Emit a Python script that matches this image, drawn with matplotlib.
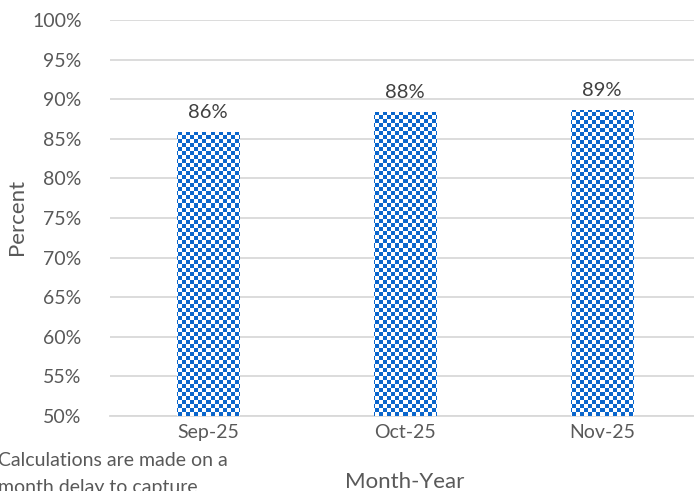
import matplotlib
matplotlib.use("Agg")
import matplotlib.pyplot as plt
import numpy as np

categories = ["Sep-25", "Oct-25", "Nov-25"]
values = [85.9, 88.4, 88.6]
labels = ["86%", "88%", "89%"]
yticks = [50, 55, 60, 65, 70, 75, 80, 85, 90, 95, 100]
note_lines = ["Calculations are made on a", "month delay to capture"]

plt.rcParams['font.family'] = ['Lato', 'DejaVu Sans']

W, H = 694, 491
fig = plt.figure(figsize=(W / 100, H / 100), dpi=100)
ax = fig.add_axes([109.5 / W, (H - 416) / H, 591 / W, 396 / H])

blue = '#0A66CC'
text_c = '#595959'
x = np.arange(len(categories))
bars = ax.bar(x, [v - 50 for v in values], bottom=50, width=0.315,
              color='white', edgecolor='none', zorder=2)

# checkerboard fill (4 px cells)
ncx, ncy = int(591 / 4), int(396 / 4)
checker = (np.add.outer(np.arange(ncy), np.arange(ncx)) % 2)
cmap = matplotlib.colors.ListedColormap(['white', blue])
for b in bars:
    im = ax.imshow(checker, cmap=cmap, extent=(-0.5, 2.5, 50, 100),
                   aspect='auto', interpolation='nearest', zorder=3, origin='upper')
    im.set_clip_path(b)

for xi, v, lab in zip(x, values, labels):
    ax.text(xi, v + 1.4, lab, ha='center', va='bottom', fontsize=14.5, color='#404040')

ax.set_xlim(-0.5, 2.5)
ax.set_ylim(50, 100)
ax.set_yticks(yticks)
ax.set_yticklabels([f"{t}%" for t in yticks])
ax.set_xticks(x)
ax.set_xticklabels(categories)
ax.yaxis.grid(True, color='#D9D9D9', linewidth=1.3, zorder=0)
ax.set_axisbelow(True)
for s in ['top', 'right', 'left']:
    ax.spines[s].set_visible(False)
ax.spines['bottom'].set_color('#D9D9D9')
ax.spines['bottom'].set_linewidth(1.3)
ax.tick_params(axis='both', length=0, labelsize=14, colors=text_c)
ax.tick_params(axis='y', pad=20)
ax.tick_params(axis='x', pad=6)

fig.text(17 / W, 1 - 217 / H, "Percent", rotation=90, ha='center', va='center',
         fontsize=16, color=text_c)
fig.text(405 / W, 1 - 482 / H, "Month-Year", ha='center', va='center',
         fontsize=16, color=text_c)
for yc, line in zip([460, 487], note_lines):
    fig.text(-2 / W, 1 - yc / H, line, ha='left', va='center',
             fontsize=14, color=text_c)

fig.savefig("out.png", dpi=100)
